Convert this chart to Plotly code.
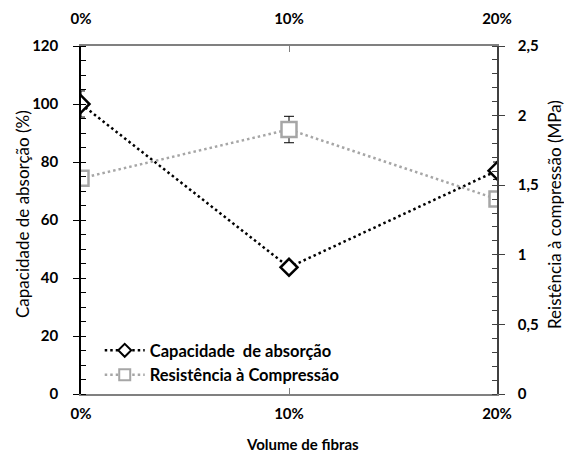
import plotly.graph_objects as go

categories = ["0%", "10%", "20%"]
cat_pos = [0, 1, 2]
absorcao = [100, 43.7, 77]
absorcao_err = [4.5, 1, 3]
resistencia = [1.55, 1.9, 1.4]
resistencia_err = [0, 0.095, 0]
left_ticks = [0, 20, 40, 60, 80, 100, 120]
right_tickvals = [0, 0.5, 1, 1.5, 2, 2.5]
right_ticktext = ["0", "0,5", "1", "1,5", "2", "2,5"]
name_abs = "Capacidade  de absorção"
name_res = "Resistência à Compressão"

FONT = "Lato"
BLACK_DOT = dict(color="black", width=2.5, dash="2.5px,3px")
GRAY_DOT = dict(color="#A6A6A6", width=2.5, dash="2.5px,3px")
fig = go.Figure()

fig.add_trace(go.Scatter(
    x=cat_pos, y=absorcao, name=name_abs, showlegend=False,
    mode="lines+markers", line=BLACK_DOT,
    marker=dict(symbol="diamond", size=13, color="white",
                line=dict(color="black", width=2.5)),
    error_y=dict(type="data", array=absorcao_err, color="black",
                 thickness=1, width=4),
    xaxis="x", yaxis="y",
))
fig.add_trace(go.Scatter(
    x=cat_pos, y=resistencia, name=name_res, showlegend=False,
    mode="lines+markers", line=GRAY_DOT,
    marker=dict(symbol="square", size=15, color="white",
                line=dict(color="#A6A6A6", width=2.5)),
    error_y=dict(type="data", array=resistencia_err, color="black",
                 thickness=1, width=5),
    xaxis="x", yaxis="y2",
))
# legend entries (smaller symbols, as in the reference legend)
fig.add_trace(go.Scatter(
    x=[None], y=[None], name=name_abs, mode="lines+markers", line=BLACK_DOT,
    marker=dict(symbol="diamond", size=10, color="white",
                line=dict(color="black", width=2)),
    xaxis="x", yaxis="y"))
fig.add_trace(go.Scatter(
    x=[None], y=[None], name=name_res, mode="lines+markers", line=GRAY_DOT,
    marker=dict(symbol="square", size=11, color="white",
                line=dict(color="#A6A6A6", width=2)),
    xaxis="x", yaxis="y2"))
# invisible trace to activate the top axis
fig.add_trace(go.Scatter(x=cat_pos, y=[None]*3, xaxis="x2", yaxis="y",
                         showlegend=False, hoverinfo="skip"))

tickfont = dict(family=FONT, size=15, color="black", weight="bold")
titlefont = dict(family=FONT, size=17, color="black")

fig.update_layout(
    width=564, height=454,
    margin=dict(l=81, r=67, t=46, b=60),
    paper_bgcolor="white", plot_bgcolor="white",
    separators=",.",
    showlegend=True,
    legend=dict(x=0.045, y=0.175, xanchor="left", yanchor="top",
                bgcolor="rgba(0,0,0,0)", tracegroupgap=0,
                font=dict(family=FONT, size=16.5, color="black", weight="bold"),
                itemwidth=40),
    xaxis=dict(range=[0, 2], tickvals=cat_pos, ticktext=categories,
               showline=True, linecolor="#808080", linewidth=1.5,
               ticks="inside", ticklen=6, tickcolor="#808080",
               showgrid=False, zeroline=False, tickfont=tickfont,
               ticklabelstandoff=5, automargin=False),
    xaxis2=dict(range=[0, 2], tickvals=cat_pos, ticktext=categories,
                overlaying="x", side="top", anchor="y",
                showline=True, linecolor="#808080", linewidth=1.5,
                ticks="inside", ticklen=6, tickcolor="#808080",
                showgrid=False, zeroline=False, tickfont=tickfont,
                ticklabelstandoff=14, automargin=False),
    yaxis=dict(range=[0, 120], tickvals=left_ticks,
               showline=True, linecolor="black", linewidth=1.5,
               ticks="outside", ticklen=6, tickcolor="black",
               minor=dict(dtick=5, ticks="inside", ticklen=5, tickcolor="black"),
               showgrid=False, zeroline=False, tickfont=tickfont,
               ticklabelstandoff=12, automargin=False),
    yaxis2=dict(range=[0, 2.5], tickvals=right_tickvals, ticktext=right_ticktext,
                overlaying="y", side="right", anchor="x",
                showline=True, linecolor="#404040", linewidth=1.5,
                ticks="outside", ticklen=6, tickcolor="#404040",
                minor=dict(dtick=0.1, ticks="inside", ticklen=5, tickcolor="#404040"),
                showgrid=False, zeroline=False, tickfont=tickfont,
                ticklabelstandoff=10, automargin=False),
    annotations=[
        dict(text="Capacidade de absorção (%)", xref="paper", yref="paper",
             x=-0.142, y=0.517, xanchor="center", yanchor="middle",
             textangle=-90, showarrow=False, font=titlefont),
        dict(text="Reistência à compressão (MPa)", xref="paper", yref="paper",
             x=1.14, y=0.515, xanchor="center", yanchor="middle",
             textangle=-90, showarrow=False, font=titlefont),
        dict(text="Volume de fibras", xref="paper", yref="paper",
             x=0.532, y=-0.145, xanchor="center", yanchor="middle",
             showarrow=False,
             font=dict(family=FONT, size=15, color="black", weight="bold")),
    ],
)

fig.write_html("out.html", config={"displayModeBar": False},
               post_script="document.body.style.margin='0';document.body.style.overflow='hidden';")
